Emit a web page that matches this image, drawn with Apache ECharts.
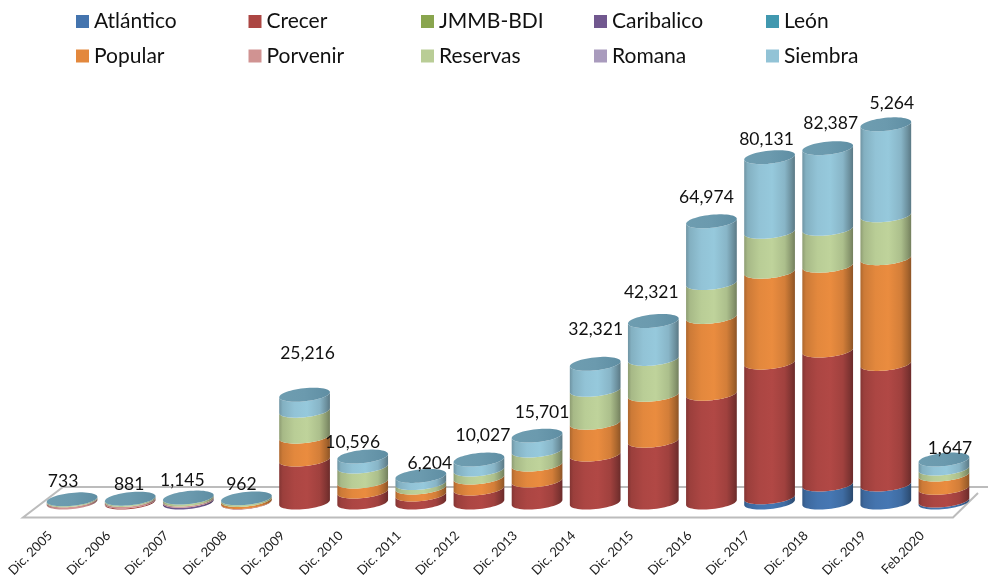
<!DOCTYPE html>
<html>
<head>
<meta charset="utf-8">
<script src="https://cdn.jsdelivr.net/npm/echarts@6/dist/echarts.min.js"></script>
<style>html,body{margin:0;padding:0;background:#fff}#c{width:988px;height:578px}</style>
</head>
<body>
<div id="c"></div>
<script>
const categories = ['Dic. 2005','Dic. 2006','Dic. 2007','Dic. 2008','Dic. 2009','Dic. 2010','Dic. 2011','Dic. 2012','Dic. 2013','Dic. 2014','Dic. 2015','Dic. 2016','Dic. 2017','Dic. 2018','Dic. 2019','Feb.2020'];
const atlantico  = [0,0,0,0,0,0,0,0,0,0,0,0,1200,4200,4200,460];
const crecer     = [0,200,0,100,10000,2560,1860,3260,5120,11160,14400,25350,31400,31200,28100,2950];
const jmmb       = [0,0,0,0,0,0,0,0,0,0,0,0,0,0,0,0];
const caribalico = [0,0,400,0,0,0,0,0,0,0,0,0,0,0,0,0];
const leon       = [0,0,0,0,0,0,0,0,0,0,0,0,0,0,0,0];
const popular    = [0,0,0,500,5350,2330,1630,2560,3720,7440,10700,17900,21200,19800,24650,3100];
const porvenir   = [500,400,300,0,0,0,0,0,0,0,0,0,0,0,0,0];
const reservas   = [233,281,445,362,6050,3490,1050,1860,3260,7670,8370,7900,9300,8600,10000,1400];
const romana     = [0,0,0,0,0,0,0,0,0,0,0,0,0,0,0,0];
const siembra    = [0,0,0,0,3720,2330,1650,2330,3490,6050,8840,14400,17400,18800,21200,2100];
const shownLabels = [733,881,1145,962,25216,10596,6204,10027,15701,32321,42321,64974,80131,82387,5264,1647];

const labelOffsets = [[-9,-18],[-1,-14],[-6,-17],[-5,-14],[3,-41],[-10,-14.5],[9,-12.5],[4,-24],[5,-23],[0.5,-34.5],[-2,-28.6],[-5,-23.6],[-3,-18],[3,-25],[6,-20.5],[6,-11]];

const seriesDefs = [
  ['Atlántico', atlantico, '#4474AE'],
  ['Crecer', crecer, '#AC4643'],
  ['JMMB-BDI', jmmb, '#89A54E'],
  ['Caribalico', caribalico, '#71588F'],
  ['León', leon, '#4198AF'],
  ['Popular', popular, '#E3883D'],
  ['Porvenir', porvenir, '#D09392'],
  ['Reservas', reservas, '#B9CD96'],
  ['Romana', romana, '#A99BBD'],
  ['Siembra', siembra, '#92C3D6']
];

const RX = 25.5, RY = 6.5, TILT = 6 * Math.PI / 180;
function shade(hex, f) {
  const n = parseInt(hex.slice(1), 16);
  const c = [n >> 16, (n >> 8) & 255, n & 255].map(v => Math.min(255, Math.round(v * f)));
  return 'rgb(' + c.join(',') + ')';
}
function cylGrad(hex) {
  const stops = [[0,.76],[.07,.9],[.3,1.0],[.55,1.03],[.8,.93],[.93,.74],[1,.62]];
  return { type:'linear', x:0, y:0, x2:1, y2:0, colorStops: stops.map(s => ({offset:s[0], color:shade(hex, s[1])})) };
}
function ell(cx, cy, t) {
  const ca = Math.cos(t), sa = Math.sin(t);
  return [cx + RX*ca*Math.cos(TILT) + RY*sa*Math.sin(TILT), cy - RX*ca*Math.sin(TILT) + RY*sa*Math.cos(TILT)];
}
function frontArc(cx, cy, rev) {
  const pts = [];
  for (let i = 0; i <= 28; i++) pts.push(ell(cx, cy, (rev ? 28 - i : i) / 28 * Math.PI));
  return pts;
}
function segmentRenderer(hex) {
  return function (params, api) {
    const i = api.value(0), lo = api.value(1), hi = api.value(2);
    if (hi <= lo) return null;
    const a = api.coord([i, lo]), b = api.coord([i, hi]);
    const pts = frontArc(b[0], b[1], false).concat(frontArc(a[0], a[1], true));
    return { type:'polygon', shape:{points:pts}, style:{fill:cylGrad(hex)} };
  };
}
function fmt(v) { return v.toLocaleString('en-US'); }

const base = categories.map(() => 0);
const series = seriesDefs.map(d => {
  const data = d[1].map((v, i) => { const r = [i, base[i], base[i] + v]; base[i] += v; return r; });
  return { name:d[0], type:'custom', coordinateSystem:'cartesian2d', clip:false, itemStyle:{color:d[2]},
           renderItem:segmentRenderer(d[2]), encode:{x:0, y:[1,2]}, data:data, z:3 };
});
series.push({
  name:'Total', type:'custom', coordinateSystem:'cartesian2d', clip:false, z:4,
  encode:{x:0, y:1}, data:base.map((v, i) => [i, v]),
  renderItem:function (params, api) {
    const i = api.value(0), p = api.coord([i, api.value(1)]), o = labelOffsets[i];
    const pts = [];
    for (let k = 0; k < 56; k++) pts.push(ell(p[0], p[1], k / 56 * 2 * Math.PI));
    return { type:'group', children:[
      { type:'polygon', shape:{points:pts}, style:{fill:{type:'linear',x:0,y:0,x2:1,y2:0,colorStops:[{offset:0,color:'#6E9DB0'},{offset:.5,color:'#6B9AAE'},{offset:1,color:'#5F8EA3'}]}} },
      { type:'text', z2:20, style:{ x:p[0]+o[0], y:p[1]+o[1], text:fmt(shownLabels[i]), align:'center', verticalAlign:'middle', fill:'#111', font:'17.5px Lato' } }
    ]};
  }
});

const legendX = [76, 248.5, 421, 594, 766], legendY = [11, 45.5];
const legends = seriesDefs.map((d, i) => ({
  data:[d[0]], left:legendX[i % 5], top:legendY[Math.floor(i / 5)], padding:0, icon:'rect', itemWidth:13, itemHeight:13,
  selectedMode:false, textStyle:{fontFamily:'Lato', fontSize:21, color:'#111'}
}));

const chart = echarts.init(document.getElementById('c'), null, {renderer:'canvas'});
chart.setOption({
  animation:false,
  backgroundColor:'#fff',
  legend:legends,
  graphic:[{ type:'polyline', z:0, silent:true,
    shape:{points:[[988,487],[63,487],[23,517.5],[953,517.5],[978,493]]},
    style:{stroke:'#bcbcbc', lineWidth:2, fill:null} }],
  grid:{left:43, width:930, top:73.5, height:429, outerBoundsMode:'none'},
  xAxis:{type:'category', data:categories, axisLine:{show:false}, axisTick:{show:false},
    axisLabel:{interval:0, rotate:45, margin:9, padding:[0,31,0,0], fontFamily:'Lato', fontSize:13, color:'#222'}},
  yAxis:{type:'value', min:0, max:100000, interval:20000, show:false},
  series:series
});
</script>
</body>
</html>
